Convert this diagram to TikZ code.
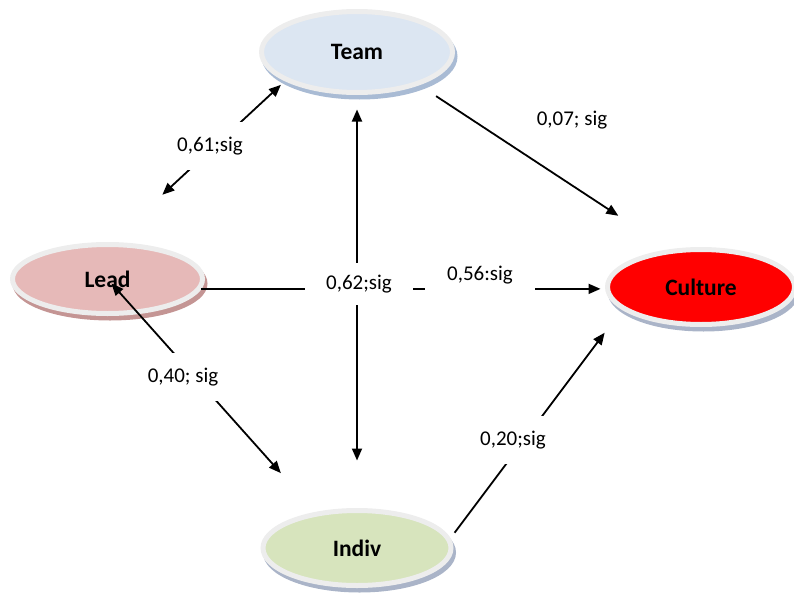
\documentclass[tikz,border=0pt]{standalone}
\usepackage{fontspec}
\setmainfont{Carlito}
\usetikzlibrary{shapes.geometric,arrows.meta}
\definecolor{ringc}{HTML}{EDEDED}
\definecolor{teamc}{HTML}{DCE6F2}
\definecolor{teams}{HTML}{A9BBD4}
\definecolor{leadc}{HTML}{E6B9B8}
\definecolor{leads}{HTML}{C49594}
\definecolor{cultc}{HTML}{FF0000}
\definecolor{cults}{HTML}{AAB4C8}
\definecolor{indivc}{HTML}{D7E4BD}
\definecolor{indivs}{HTML}{AAB4C8}
\begin{document}
\begin{tikzpicture}[x=1pt,y=-1pt,
  ell/.style 2 args={ellipse, fill=#1, draw=ringc, line width=5pt, inner sep=0pt,
    preaction={draw=#2, fill=#2, line width=5pt, transform canvas={shift={(2.5pt,-4.5pt)}}},
    font=\bfseries\fontsize{23.5}{27}\selectfont},
  conn/.style={line width=1.8pt, -{Triangle[length=12pt,width=10pt]}},
  biconn/.style={line width=1.8pt, {Triangle[length=12pt,width=10pt]}-{Triangle[length=12pt,width=10pt]}},
  lab/.style={fill=white, inner sep=2pt, font=\fontsize{21}{25}\selectfont}]

\path[use as bounding box] (0,0) rectangle (794,602);

\node[ell={teamc}{teams}, minimum width=191pt, minimum height=81pt] (team) at (357,52) {Team};
\node[ell={leadc}{leads}, minimum width=190pt, minimum height=69pt] (lead) at (107.5,279) {Lead};
\node[ell={cultc}{cults}, minimum width=187pt, minimum height=75pt] (culture) at (701,287) {Culture};
\node[ell={indivc}{indivs}, minimum width=188pt, minimum height=75pt] (indiv) at (357,548) {Indiv};

% connectors
\draw[biconn, shorten <=69.5pt, shorten >=5.5pt] (lead.84) -- (team.202.5);
\draw[conn, shorten <=20pt, shorten >=61pt] (team.-28) -- (culture.130);
\draw[biconn, shorten <=47.5pt, shorten >=14.5pt] (indiv.north) -- (team.south);
\draw[conn, shorten >=4.5pt] (lead.-6.3) -- (lead.-6.3 -| culture.west);
\draw[biconn, shorten <=6pt, shorten >=52pt] (lead.center) -- (indiv.139.3);
\draw[conn, shorten <=6.8pt, shorten >=28.8pt] (indiv.6) -- (culture.196.4);

% labels
\node[lab, minimum width=64pt, minimum height=48pt] (l61) at (210,146) {0,61;sig};
\node[lab, fill=none] (l07) at (572,120) {0,07; sig};
\node[lab, minimum width=108pt, minimum height=42pt] (l62) at (359,284) {0,62;sig\hspace{10pt}};
\node[lab, text height=14pt, text depth=14pt, minimum width=110pt, minimum height=36pt] (l56) at (480,280) {0,56:sig\hspace{10pt}};
\node[lab, minimum height=48pt] (l40) at (183,377) {0,40; sig};
\node[lab, inner xsep=4pt, minimum height=48pt] (l20) at (513,440) {0,20;sig};
\end{tikzpicture}
\end{document}
